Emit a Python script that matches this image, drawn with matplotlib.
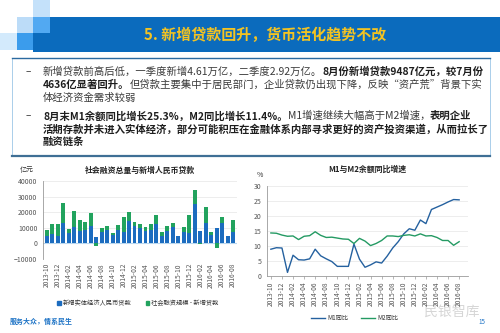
import matplotlib

matplotlib.use("Agg")
import matplotlib.pyplot as plt
from matplotlib.patches import Rectangle
from matplotlib.lines import Line2D

plt.rcParams["font.family"] = ["Noto Sans CJK SC", "DejaVu Sans"]

# ---- data -------------------------------------------------------------
months = ["2013-10", "2013-11", "2013-12",
          "2014-01", "2014-02", "2014-03", "2014-04", "2014-05", "2014-06",
          "2014-07", "2014-08", "2014-09", "2014-10", "2014-11", "2014-12",
          "2015-01", "2015-02", "2015-03", "2015-04", "2015-05", "2015-06",
          "2015-07", "2015-08", "2015-09", "2015-10", "2015-11", "2015-12",
          "2016-01", "2016-02", "2016-03", "2016-04", "2016-05", "2016-06",
          "2016-07", "2016-08"]
# 新增实体经济人民币贷款 (亿元)
loans = [4800, 6200, 4800, 12900, 6400, 10300, 7700, 8700, 10800,
         3800, 7000, 8600, 5500, 8300, 7000, 14500, 11100, 9900,
         8000, 8500, 12700, 4700, 7800, 10500, 4600, 7100, 6700,
         25100, 8000, 13000, 5600, 9800, 12800, 4600, 7500]
# 社会融资规模 - 新增贷款 (亿元)
other = [3800, 6000, 7600, 12800, 2900, 10400, 7300, 5300, 8600,
         -1400, 2600, 2800, 1100, 3200, 9700, 5800, 2500, 2500,
         2500, 3700, 5400, 2500, 3000, 2500, 200, 3100, 11500,
         9100, -300, 10400, 1900, -3200, 3800, 300, 7200]
m1 = [8.9, 9.4, 9.3, 1.2, 6.9, 5.4, 5.3, 5.7, 8.9,
      6.7, 5.7, 4.8, 3.2, 3.2, 3.2, 10.6, 5.6, 2.9,
      3.7, 4.7, 4.3, 6.6, 9.3, 11.4, 14.0, 15.7, 15.2,
      18.6, 17.4, 22.1, 22.9, 23.7, 24.6, 25.4, 25.3]
m2 = [14.3, 14.2, 13.6, 13.2, 13.3, 12.1, 13.2, 13.4, 14.7,
      13.5, 12.8, 12.9, 12.6, 12.3, 12.2, 10.8, 12.5, 11.6,
      10.1, 10.8, 11.8, 13.3, 13.3, 13.1, 13.5, 13.7, 13.3,
      14.0, 13.3, 13.4, 12.8, 11.8, 11.8, 10.2, 11.4]

BLUE = "#1c6cbf"
GREEN = "#22a35e"
M1_C = "#25619f"
M2_C = "#249a63"
GRID = "#e6e6e6"
TICK = "#555555"

W, H = 500, 333
fig = plt.figure(figsize=(W / 100, H / 100), dpi=100)

# ---- background canvas in pixel coordinates ---------------------------
bg = fig.add_axes([0, 0, 1, 1], zorder=0)
bg.set_xlim(0, W)
bg.set_ylim(H, 0)
bg.axis("off")


def box(x, y, w, h, c):
    bg.add_patch(Rectangle((x, y), w, h, facecolor=c, edgecolor="none"))


box(33, 0, 17, 17, "#c4e1fa")
box(17, 17, 16, 16, "#bcdcf8")
box(33, 17, 17, 16, "#52a9f2")
box(0, 33, 17, 17, "#d3eafc")
box(17, 33, 16, 17, "#3b9cec")
box(50, 17, 450, 35, "#0b6bbd")
box(33, 33, 17, 19, "#0b6bbd")
bg.text(265, 35, "5. 新增贷款回升，货币活化趋势不改", fontsize=10.8,
        fontweight="bold", color="#f3c322", ha="center", va="center")

# text box
bg.add_patch(Rectangle((12, 58), 478, 98, facecolor="none",
                       edgecolor="#9cc6e6", lw=0.6))
bg.plot([12, 490], [58, 58], color="#2b6aa0", lw=1.0)
bg.plot([12, 490], [156, 156], color="#3f6f95", lw=1.6)

renderer = fig.canvas.get_renderer()


def rich_line(x, y, parts, size=7.45):
    for txt, bold in parts:
        t = bg.text(x, y, txt, fontsize=size,
                    fontweight="bold" if bold else "normal",
                    color="#1e1e1e" if bold else "#3a3a3a",
                    ha="left", va="center")
        bb = t.get_window_extent(renderer=renderer)
        x = bg.transData.inverted().transform((bb.x1, bb.y0))[0]


lines = [
    (72, [("新增贷款前高后低，一季度新增4.61万亿，二季度2.92万亿。", False),
          ("8月份新增贷款9487亿元，较7月份", True)]),
    (85, [("4636亿显著回升。", True),
          ("但贷款主要集中于居民部门，企业贷款仍出现下降，反映“资产荒”背景下实", False)]),
    (98, [("体经济资金需求较弱", False)]),
    (116, [("8月末M1余额同比增长25.3%，M2同比增长11.4%。", True),
           ("M1增速继续大幅高于M2增速，", False), ("表明企业", True)]),
    (129, [("活期存款并未进入实体经济，部分可能积压在金融体系内部寻求更好的资产投资渠道，从而拉长了", True)]),
    (142, [("融资链条", True)]),
]
for y, parts in lines:
    rich_line(43, y, parts)
for y in (72, 116):
    bg.text(28, y, "–", fontsize=7.2, color="#3a3a3a", ha="center", va="center")

# footer
bg.text(10, 321, "服务大众，情系民生", fontsize=5, fontweight="bold",
        color="#1f74c6", ha="left", va="center")
bg.text(482, 322, "15", fontsize=4.5, color="#1f74c6", ha="center", va="center")
bg.text(452, 312, "民银智库", fontsize=10, color="#d6d6d6",
        ha="center", va="center", zorder=5)

# ---- left chart: stacked bars -----------------------------------------
ax1 = fig.add_axes([43 / W, 1 - 258.9 / H, 194 / W, 77.9 / H], zorder=2)
ax1.patch.set_alpha(0)
xs = list(range(len(months)))
ax1.bar(xs, loans, width=0.72, color=BLUE, zorder=3)
green_bottom = [l if o >= 0 else 0 for l, o in zip(loans, other)]
ax1.bar(xs, other, bottom=green_bottom, width=0.72, color=GREEN, zorder=3)
ax1.set_ylim(-10000, 40000)
ax1.set_xlim(-0.7, len(months) - 0.3)
ax1.set_yticks(range(-10000, 40001, 10000))
ax1.set_xticks(xs[::2])
ax1.set_xticklabels(months[::2], rotation=90, fontsize=4.8, color=TICK)
ax1.tick_params(axis="y", labelsize=5, colors=TICK, length=0, pad=4)
ax1.tick_params(axis="x", length=0, pad=3)
ax1.grid(axis="y", color=GRID, lw=0.5, zorder=0)
ax1.axhline(0, color="#b9d7ee", lw=0.8, zorder=2)
for s in ("top", "right", "bottom"):
    ax1.spines[s].set_visible(False)
ax1.spines["left"].set_color("#9a9a9a")
ax1.spines["left"].set_linewidth(0.6)
ax1.set_title("社会融资总量与新增人民币贷款", fontsize=5.7, fontweight="bold",
              color="#222222", pad=6)
bg.text(20, 170, "亿元", fontsize=5, color="#333333", ha="left", va="center")
handles = [Rectangle((0, 0), 1, 1, color=BLUE), Rectangle((0, 0), 1, 1, color=GREEN)]
fig.legend(handles, ["新增实体经济人民币贷款", "社会融资规模 - 新增贷款"],
           loc="center", bbox_to_anchor=(138 / W, 1 - 303 / H), ncol=2,
           frameon=False, fontsize=4.5, handlelength=0.6, handleheight=0.6,
           handletextpad=0.3, columnspacing=2.2, labelcolor="#333333")

# ---- right chart: M1 / M2 lines ---------------------------------------
ax2 = fig.add_axes([267 / W, 1 - 276 / H, 201 / W, 90.3 / H], zorder=2)
ax2.patch.set_alpha(0)
ax2.plot(xs, m1, color=M1_C, lw=1.0, zorder=3)
ax2.plot(xs, m2, color=M2_C, lw=1.0, zorder=3)
ax2.set_ylim(0, 30)
ax2.set_xlim(-0.7, len(months) + 0.6)
ax2.set_yticks(range(0, 31, 5))
ax2.set_xticks(xs[::2])
ax2.set_xticklabels(months[::2], rotation=90, fontsize=4.8, color=TICK)
ax2.tick_params(axis="y", labelsize=5, colors=TICK, length=0, pad=4)
ax2.tick_params(axis="x", length=2, width=0.5, color="#9a9a9a", pad=2)
ax2.grid(axis="y", color=GRID, lw=0.5, zorder=0)
for s in ("top", "right"):
    ax2.spines[s].set_visible(False)
for s in ("left", "bottom"):
    ax2.spines[s].set_color("#9a9a9a")
    ax2.spines[s].set_linewidth(0.6)
ax2.set_title("M1与M2余额同比增速", fontsize=5.7, fontweight="bold",
              color="#222222", pad=10)
bg.text(260, 175, "%", fontsize=5, color="#333333", ha="center", va="center")
line_handles = [Line2D([], [], color=M1_C, lw=1.0), Line2D([], [], color=M2_C, lw=1.0)]
fig.legend(line_handles, ["M1同比", "M2同比"], loc="center",
           bbox_to_anchor=(355 / W, 1 - 318 / H), ncol=2, frameon=False,
           fontsize=4.5, handlelength=2.2, handletextpad=0.4,
           columnspacing=2.0, labelcolor="#333333")

fig.savefig("out.png", dpi=100)
